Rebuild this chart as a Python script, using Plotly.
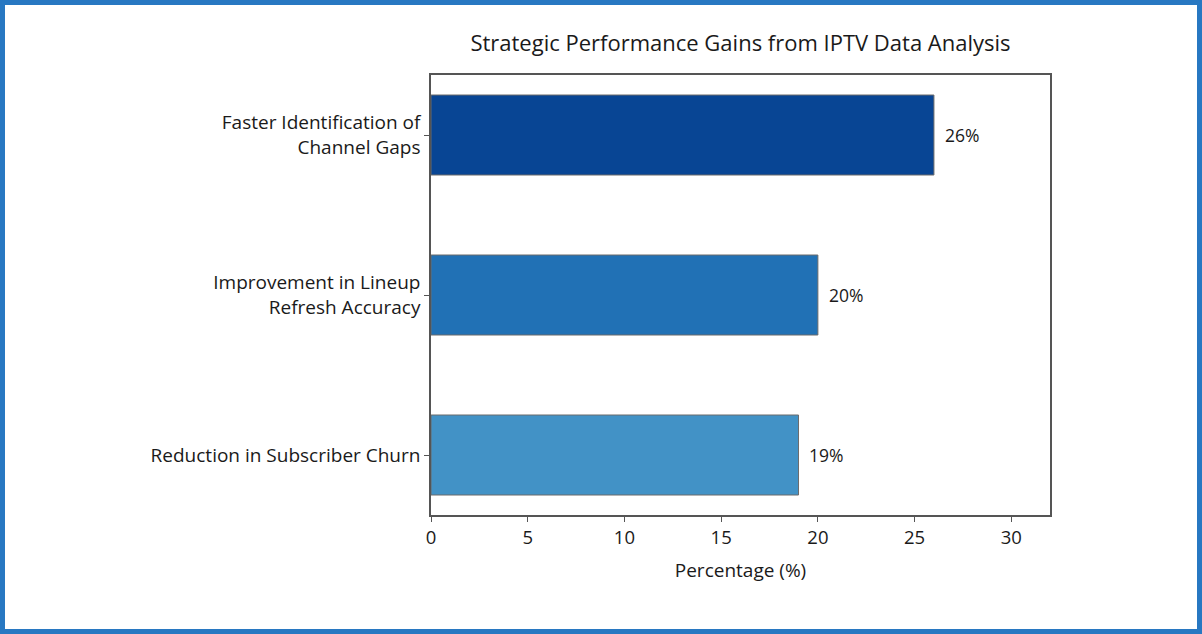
import plotly.graph_objects as go

categories = ["Faster Identification of<br>Channel Gaps",
              "Improvement in Lineup<br>Refresh Accuracy",
              "Reduction in Subscriber Churn"]
values = [26, 20, 19]
colors = ["#084594", "#2171b5", "#4292c6"]
label_texts = [f"{v}%" for v in values]

W, H = 1202, 634
L, R, T, B = 431, 152, 75, 119
pw, ph = W - L - R, H - T - B

FONT = "Open Sans"
TXT = "#1a1a1a"

fig = go.Figure()
fig.add_trace(go.Bar(
    y=categories, x=values, orientation="h",
    marker=dict(color=colors, line=dict(color="#6b6b6b", width=1)),
    width=0.5, hoverinfo="skip",
))

for c, v, t in zip(categories, values, label_texts):
    fig.add_annotation(x=v + 0.45, y=c, text=t, showarrow=False,
                       xanchor="left", yanchor="middle",
                       font=dict(family=FONT, size=17.5, color=TXT))

# outer blue border
bw = 5
fig.add_shape(type="rect", xref="paper", yref="paper",
              x0=(-L + bw / 2) / pw, x1=(W - L - bw / 2) / pw,
              y0=(-B + bw / 2) / ph, y1=(H - B - bw / 2) / ph,
              line=dict(color="#2878c2", width=bw), fillcolor="rgba(0,0,0,0)",
              layer="above")

fig.update_layout(
    width=W, height=H,
    margin=dict(l=L, r=R, t=T, b=B),
    paper_bgcolor="white", plot_bgcolor="white",
    showlegend=False,
    font=dict(family=FONT, size=18, color=TXT),
    title=dict(text="Strategic Performance Gains from IPTV Data Analysis",
               x=(L + pw / 2) / W, xanchor="center",
               y=1 - 43 / H, yanchor="middle",
               font=dict(family=FONT, size=22, color=TXT)),
    xaxis=dict(range=[0, 32], tickvals=[0, 5, 10, 15, 20, 25, 30],
               showgrid=False, zeroline=False,
               showline=True, linecolor="#555555", linewidth=1.5, mirror=True,
               ticks="outside", ticklen=5, tickcolor="#555555",
               tickfont=dict(family=FONT, size=18.5, color=TXT),
               title=dict(text="Percentage (%)", standoff=16,
                          font=dict(family=FONT, size=19, color=TXT))),
    yaxis=dict(range=[2.375, -0.375], showgrid=False, zeroline=False,
               showline=True, linecolor="#555555", linewidth=1.5, mirror=True,
               ticks="outside", ticklen=5, tickcolor="#555555",
               tickfont=dict(family=FONT, size=19, color=TXT)),
)

fig.write_html("out.html")
